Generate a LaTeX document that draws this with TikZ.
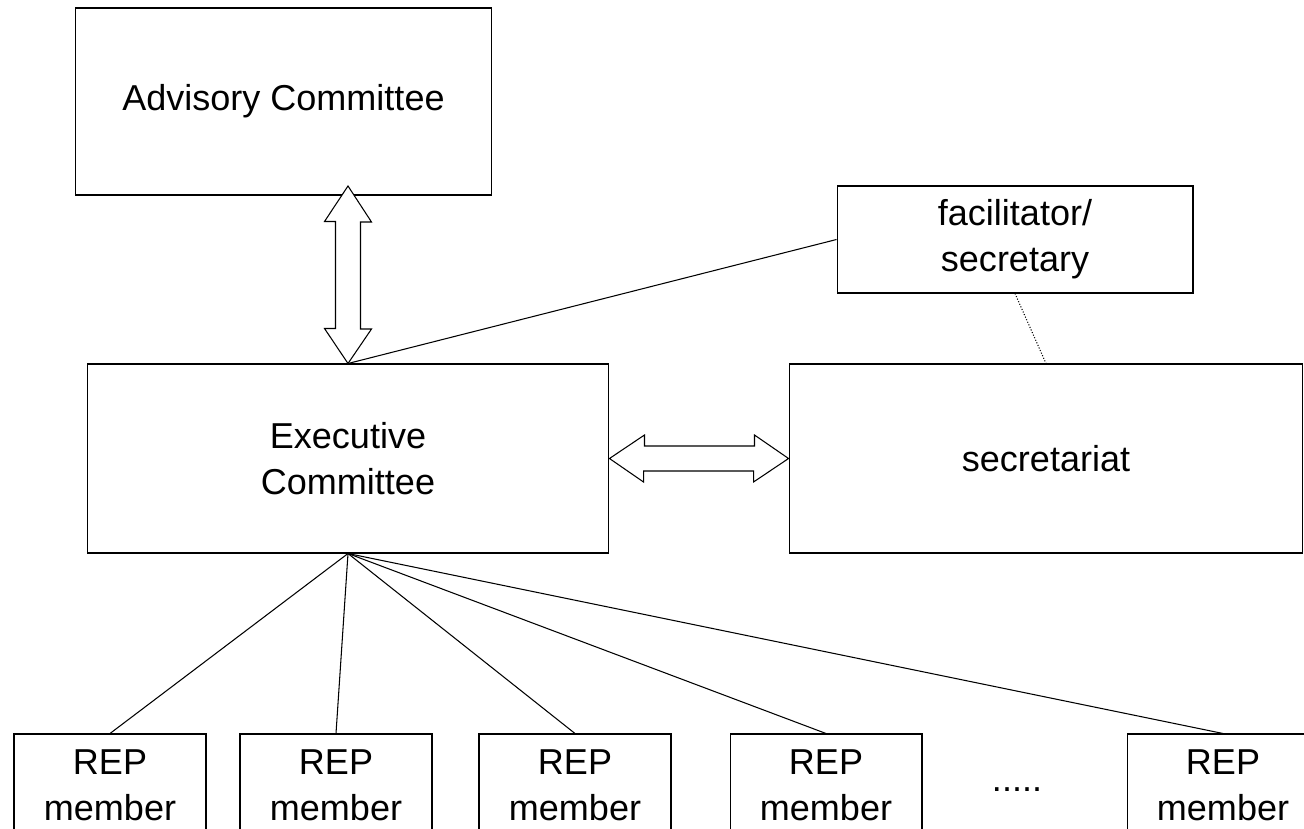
\documentclass[tikz,border=0pt]{standalone}
\usepackage{fontspec}
\setmainfont{Liberation Sans}

\begin{document}
\begin{tikzpicture}
  [x=0.02cm,y=-0.02cm,line width=0.6pt,
   every node/.style={font=\fontsize{20.5}{26}\selectfont,align=center,inner sep=0pt},
   box/.style={draw},
   repbox/.style={draw,minimum width=3.84cm,minimum height=2.04cm},
   fatarrow/.style={draw,fill=white,line join=miter}]
  \useasboundingbox (0,0) rectangle (1304,828);

  \node[box,minimum width=8.34cm,minimum height=3.74cm] (adv) at (283.5,101.5) {Advisory Committee};
  \node[box,minimum width=7.12cm,minimum height=2.14cm] (fac) at (1015,239.5) {facilitator/\\secretary};
  \node[box,minimum width=10.44cm,minimum height=3.78cm] (exec) at (348,458.5) {Executive\\Committee};
  \node[box,minimum width=10.28cm,minimum height=3.78cm] (sec) at (1046,458.5) {secretariat};

  \node[repbox] (rep1) at (110,785) {REP\\member};
  \node[repbox] (rep2) at (336,785) {REP\\member};
  \node[repbox] (rep3) at (575,785) {REP\\member};
  \node[repbox] (rep4) at (826,785) {REP\\member};
  \node (dots) at (1017,790) {.....};
  \node[repbox] (rep5) at (1223,785) {REP\\member};

  \coordinate (advtip) at (348,186);

  % advisory <-> executive
  \draw[fatarrow] (advtip) -- ++(23.5,36) -- ++(-11,0) -- ++(0,107) -- ++(11,0)
    -- (exec.north) -- ++(-23.5,-35) -- ++(11,0) -- ++(0,-107) -- ++(-11,0) -- cycle;
  % executive <-> secretariat
  \draw[fatarrow] (exec.east) -- ++(35,-23.5) -- ++(0,11) -- ++(110,0) -- ++(0,-11)
    -- (sec.west) -- ++(-35,23.5) -- ++(0,-11) -- ++(-110,0) -- ++(0,11) -- cycle;

  \draw (exec.north) -- (fac.west);
  \draw[densely dotted] (fac.south) -- (sec.north);

  \draw (exec.south) -- (rep1.north);
  \draw (exec.south) -- (rep2.north);
  \draw (exec.south) -- (rep3.north);
  \draw (exec.south) -- (rep4.north);
  \draw (exec.south) -- (rep5.north);
\end{tikzpicture}
\end{document}
